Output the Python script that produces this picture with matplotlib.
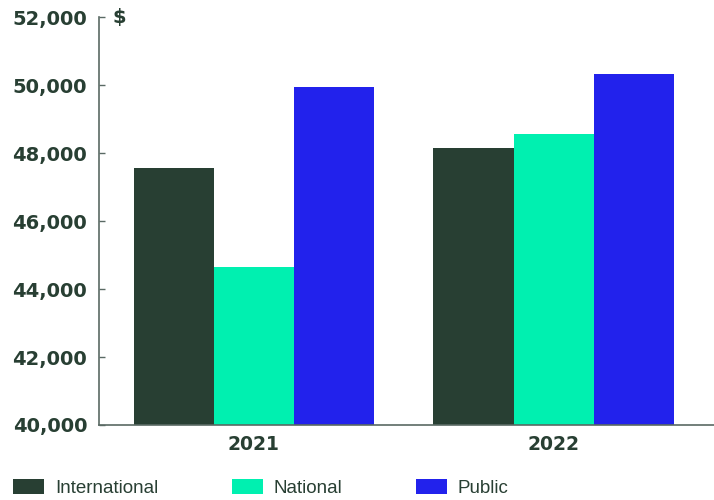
import matplotlib
matplotlib.use("Agg")
import matplotlib.pyplot as plt
import numpy as np

years = ["2021", "2022"]
series_names = ["International", "National", "Public"]
international = [47550, 48150]
national = [44650, 48570]
public = [49950, 50340]
yticks = [40000, 42000, 44000, 46000, 48000, 50000, 52000]

colors = ["#283f33", "#00f0b0", "#2222ec"]
text_color = "#283f33"

fig = plt.figure(figsize=(7.14, 5.0), dpi=100)
ax = fig.add_axes([0.1387, 0.15, 0.8613, 0.8154])

x = np.arange(len(years))
w = 0.2667
all_vals = [international, national, public]
for i, (vals, name, c) in enumerate(zip(all_vals, series_names, colors)):
    ax.bar(x + (i - 1) * w, vals, width=w, color=c, label=name, zorder=2)

ax.set_ylim(40000, 52000)
ax.set_xlim(-0.515, 1.535)
ax.set_yticks(yticks)
ax.set_yticklabels([f"{v:,}" for v in yticks], fontsize=14, fontweight="bold",
                   color=text_color, family="DejaVu Sans")
ax.set_xticks(x)
ax.set_xticklabels(years, fontsize=13.5, fontweight="bold", color=text_color,
                   family="DejaVu Sans")
ax.tick_params(axis="y", direction="in", length=4, width=1, color="#5a6a64", pad=8.5)
ax.tick_params(axis="x", length=0, pad=7)

for s in ["top", "right"]:
    ax.spines[s].set_visible(False)
for s in ["left", "bottom"]:
    ax.spines[s].set_color("#5a6a64")
    ax.spines[s].set_linewidth(1.2)

ax.text(0.022, 52000, "$", transform=ax.get_yaxis_transform(), fontsize=14,
        fontweight="bold", color=text_color, va="center", ha="left")

leg = fig.legend(loc="lower left", bbox_to_anchor=(0.0, -0.02), ncol=3, frameon=False,
                 prop={"family": "Liberation Sans", "size": 13.5},
                 handlelength=1.65, handleheight=0.8, handletextpad=0.6,
                 columnspacing=3.9, borderaxespad=0.3)
for t in leg.get_texts():
    t.set_color(text_color)

fig.savefig("out.png", dpi=100)
